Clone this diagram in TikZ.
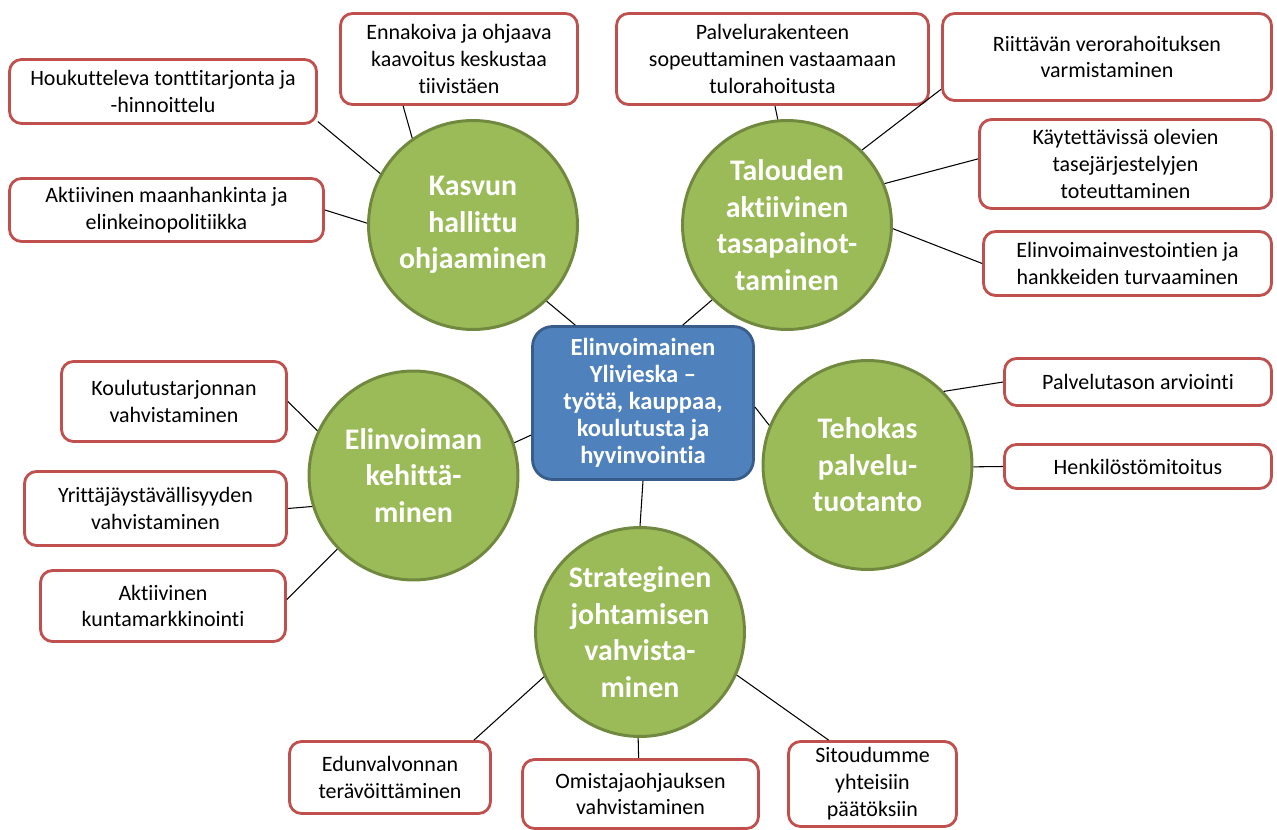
\documentclass[tikz,border=0pt]{standalone}
\usepackage{fontspec}
\setmainfont{Carlito}[Ligatures={NoCommon}]

\definecolor{topicgreen}{HTML}{9BBB59}
\definecolor{topicedge}{HTML}{71893F}
\definecolor{itemred}{HTML}{C0504D}
\definecolor{hubblue}{HTML}{4F81BD}
\definecolor{hubedge}{HTML}{385D8A}

\tikzset{
    topic/.style={circle, fill=topicgreen, draw=topicedge, line width=1.7pt,
        minimum size=4.18cm, inner sep=0pt, align=center, text=white,
        font=\fontsize{17}{20.8}\selectfont\bfseries},
    item/.style={rectangle, rounded corners=0.24cm, draw=itemred, line width=1.6pt,
        fill=white, inner sep=0pt, align=center,
        font=\fontsize{12.5}{15.3}\selectfont},
    hub/.style={rectangle, rounded corners=0.4cm, draw=hubedge, line width=1.6pt,
        fill=hubblue, inner sep=0pt, align=center, text=white,
        font=\fontsize{14}{15.3}\selectfont\bfseries},
    link/.style={line width=0.6pt}
}

\begin{document}
\begin{tikzpicture}[x=0.02cm, y=-0.02cm]
        \useasboundingbox (0,0) rectangle (1277,830);

        \node[hub, minimum width=4.42cm, minimum height=3.06cm] (ylivieska) at (643,403)
            {Elinvoimainen\\Ylivieska --\\työtä, kauppaa,\\koulutusta ja\\hyvinvointia};

        \node[topic] (kasvu) at (473,225) {Kasvun\\hallittu\\ohjaaminen};
        \node[topic] (talous) at (787,225) {Talouden\\aktiivinen\\tasapainot-\\taminen};
        \node[topic] (elinvoima) at (413.5,475.5) {Elinvoiman\\kehittä-\\minen};
        \node[topic] (tehokas) at (867.5,465) {Tehokas\\palvelu-\\tuotanto};
        \node[topic] (strategia) at (640,632) {Strateginen\\johtamisen\\vahvista-\\minen};

        \node[item, minimum width=6.14cm, minimum height=1.28cm] (tontit) at (163,91.5)
            {Houkutteleva tonttitarjonta ja\\-hinnoittelu};
        \node[item, minimum width=4.74cm, minimum height=1.82cm] (kaavoitus) at (459,59)
            {Ennakoiva ja ohjaava\\kaavoitus keskustaa\\tiivistäen};
        \node[item, minimum width=6.28cm, minimum height=1.26cm] (maanhankinta) at (166.5,210)
            {Aktiivinen maanhankinta ja\\elinkeinopolitiikka};

        \node[item, minimum width=6.24cm, minimum height=1.82cm] (palvelurakenne) at (772.5,59)
            {Palvelurakenteen\\sopeuttaminen vastaamaan\\tulorahoitusta};
        \node[item, minimum width=6.58cm, minimum height=1.74cm] (verorahoitus) at (1107,57)
            {Riittävän verorahoituksen\\varmistaminen};
        \node[item, minimum width=5.84cm, minimum height=1.78cm] (tasejarjestely) at (1125.5,164)
            {Käytettävissä olevien\\tasejärjestelyjen\\toteuttaminen};
        \node[item, minimum width=5.76cm, minimum height=1.28cm] (investoinnit) at (1127.5,263.5)
            {Elinvoimainvestointien ja\\hankkeiden turvaaminen};

        \node[item, minimum width=4.5cm, minimum height=1.6cm] (koulutus) at (174,401.5)
            {Koulutustarjonnan\\vahvistaminen};
        \node[item, minimum width=5.24cm, minimum height=1.48cm] (yrittajat) at (155.5,508.5)
            {Yrittäjäystävällisyyden\\vahvistaminen};
        \node[item, minimum width=4.9cm, minimum height=1.42cm] (markkinointi) at (163,606)
            {Aktiivinen\\kuntamarkkinointi};

        \node[item, minimum width=5.34cm, minimum height=0.94cm] (palvelutaso) at (1138,382)
            {Palvelutason arviointi};
        \node[item, minimum width=5.34cm, minimum height=0.88cm] (mitoitus) at (1138,466.5)
            {Henkilöstömitoitus};

        \node[item, minimum width=4.02cm, minimum height=1.44cm] (edunvalvonta) at (390,777.5)
            {Edunvalvonnan\\terävöittäminen};
        \node[item, minimum width=4.72cm, minimum height=1.38cm] (omistajaohjaus) at (640.5,794)
            {Omistajaohjauksen\\vahvistaminen};
        \node[item, minimum width=3.36cm, minimum height=1.7cm] (sitoutuminen) at (872.5,784)
            {Sitoudumme\\yhteisiin\\päätöksiin};

        \draw[link] (tontit.-11) -- (kasvu.151);
        \draw[link] (kaavoitus.-140) -- (kasvu.125);
        \draw[link] (maanhankinta.east) -- (kasvu.179);
        \draw[link] (kasvu.-46) -- (ylivieska.131);

        \draw[link] (palvelurakenne.-87) -- (talous.95);
        \draw[link] (verorahoitus.191) -- (talous.45);
        \draw[link] (tasejarjestely.178) -- (talous.23);
        \draw[link] (investoinnit.west) -- (talous.-2);
        \draw[link] (talous.225) -- (ylivieska.63);

        \draw[link] (koulutus.east) -- (elinvoima.155);
        \draw[link] (yrittajat.east) -- (elinvoima.197);
        \draw[link] (markkinointi.3) -- (elinvoima.224);
        \draw[link] (elinvoima.18) -- (ylivieska.196);

        \draw[link] (ylivieska.-2) -- (tehokas.158);
        \draw[link] (tehokas.44) -- (palvelutaso.west);
        \draw[link] (tehokas.-1) -- (mitoitus.west);

        \draw[link] (ylivieska.south) -- (strategia.90);
        \draw[link] (strategia.205) -- (edunvalvonta.24);
        \draw[link] (strategia.-91) -- (omistajaohjaus.93);
        \draw[link] (strategia.-24) -- (sitoutuminen.135);
    \end{tikzpicture}
\end{document}
